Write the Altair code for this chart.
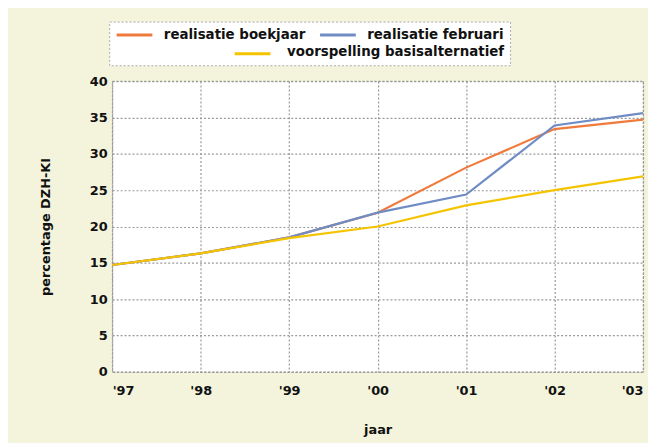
import altair as alt
import pandas as pd

years = [1997, 1998, 1999, 2000, 2001, 2002, 2003]
boekjaar = [14.7, 16.3, 18.5, 21.9, 28.1, 33.4, 34.7]
februari = [14.7, 16.3, 18.5, 21.9, 24.4, 33.9, 35.6]
voorspelling = [14.7, 16.3, 18.4, 20.0, 22.9, 25.0, 26.9]

series_names = ["realisatie boekjaar", "realisatie februari", "voorspelling basisalternatief"]
series_colors = ["#f07a3c", "#6f8cc4", "#f5c400"]

rows = []
for name, vals in zip(series_names, [boekjaar, februari, voorspelling]):
    for y, v in zip(years, vals):
        rows.append({"jaar": y, "waarde": v, "reeks": name})
df = pd.DataFrame(rows)

FONT = "DejaVu Sans"
SYM = "M-3,0H3"

common_legend = dict(
    orient="none", direction="horizontal", symbolType=SYM, symbolSize=144,
    symbolStrokeWidth=3, symbolOffset=12, labelOffset=22,
    labelFont=FONT, labelFontSize=13.5, labelFontWeight="bold", labelColor="#111",
    labelLimit=400,
)

x_enc = alt.X("jaar:Q",
              scale=alt.Scale(domain=[1997, 2003], nice=False, zero=False),
              axis=alt.Axis(values=years, title="jaar",
                            labelExpr="\"'\" + substring(toString(datum.value), 2)",
                            labelPadding=13, titlePadding=26))
y_enc = alt.Y("waarde:Q",
              scale=alt.Scale(domain=[0, 40], nice=False),
              axis=alt.Axis(values=[0, 5, 10, 15, 20, 25, 30, 35, 40],
                            title="percentage DZH-KI", labelPadding=5, titlePadding=37))

base = alt.Chart(df)

# legend box: first two series as items, third series' name as the box's bottom line
realisatie = base.transform_filter(
    alt.FieldOneOfPredicate(field="reeks", oneOf=series_names[:2])
).mark_line(strokeWidth=2.2).encode(
    x=x_enc, y=y_enc,
    color=alt.Color("reeks:N",
                    scale=alt.Scale(domain=series_names[:2], range=series_colors[:2]),
                    legend=alt.Legend(legendX=-3, legendY=-60, columnPadding=8,
                                      padding=6, fillColor="white", strokeColor="#aaa",
                                      title=series_names[2], titleOrient="bottom",
                                      titleAnchor="end",
                                      titleFont=FONT, titleFontWeight="bold",
                                      titleColor="#111",
                                      titleFontSize=13.5, titlePadding=4, titleLimit=2000,
                                      zindex=0, **common_legend)),
    order=alt.Order("jaar:Q"),
)

# third series: only its line symbol in the legend (its name is the box's bottom line)
prognose = base.transform_filter(
    alt.FieldEqualPredicate(field="reeks", equal=series_names[2])
).mark_line(strokeWidth=2.2).encode(
    x=x_enc, y=y_enc,
    stroke=alt.Stroke("reeks:N",
                      scale=alt.Scale(domain=series_names[2:], range=series_colors[2:]),
                      legend=alt.Legend(legendX=122, legendY=-35, padding=0,
                                        title=None, zindex=2, labelExpr="''",
                                        **common_legend)),
    order=alt.Order("jaar:Q"),
)

chart = alt.layer(realisatie, prognose).properties(
    width=535, height=293,
    autosize=alt.AutoSizeParams(type="none"),
    padding={"left": 105, "top": 72, "right": 5, "bottom": 70},
    background="#f4f4dc",
).configure_view(
    fill="white", stroke="#999", strokeDash=[2, 2], strokeWidth=1.2,
).configure_legend(
    strokeDash=[2, 2],
).configure_axis(
    grid=True, gridColor="#999", gridDash=[2, 2], gridWidth=1.2,
    domain=False, ticks=False,
    labelFont=FONT, labelFontSize=13, labelFontWeight="bold", labelColor="#111",
    titleFont=FONT, titleFontSize=13, titleFontWeight="bold", titleColor="#111",
)

chart.save("out.html", embed_options={"renderer": "svg", "actions": False})
